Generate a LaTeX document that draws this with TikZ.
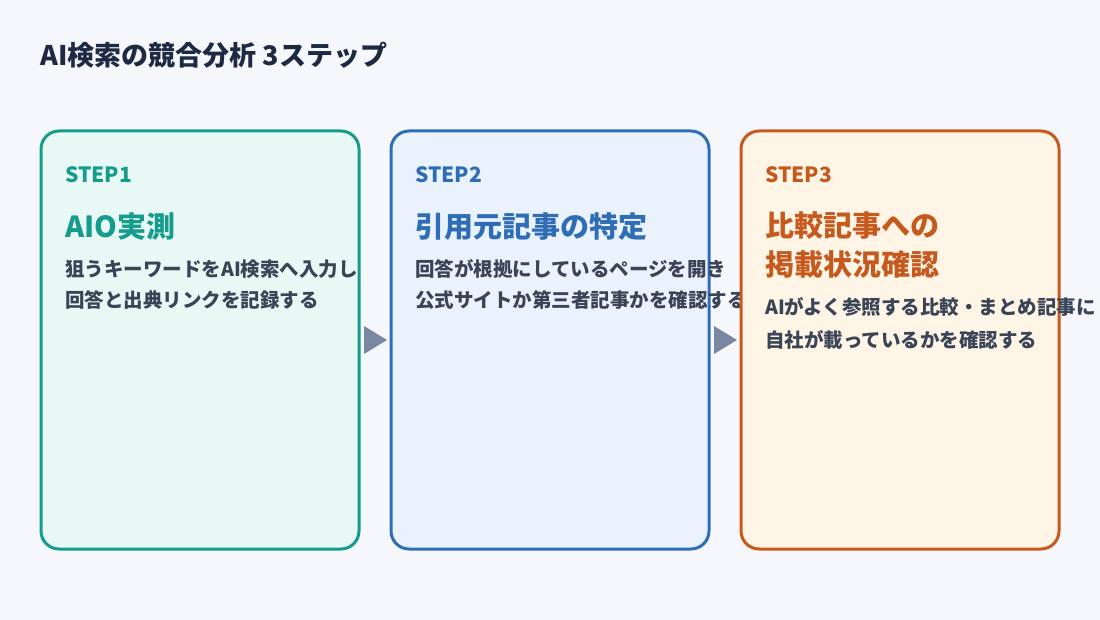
\documentclass[tikz,border=0pt]{standalone}
\usepackage{fontspec}
\setmainfont{Noto Sans CJK JP}
\definecolor{bg}{HTML}{F5F7FB}
\definecolor{ink}{HTML}{1E2A44}
\definecolor{body}{HTML}{3A4457}
\definecolor{cA}{HTML}{159C8C}\definecolor{fA}{HTML}{E8F8F4}
\definecolor{cB}{HTML}{2F6DB5}\definecolor{fB}{HTML}{EAF2FD}
\definecolor{cC}{HTML}{C65A1E}\definecolor{fC}{HTML}{FFF5E6}
\definecolor{arr}{HTML}{7A87A3}
\begin{document}
\begin{tikzpicture}[x=1pt,y=-1pt,
 card/.style={draw=#1,line width=3pt,rounded corners=18pt},
 step/.style={anchor=base west,inner sep=0,font=\fontsize{21}{21}\selectfont\bfseries,text=#1},
 head/.style={anchor=base west,inner sep=0,font=\fontsize{29}{29}\selectfont\bfseries,text=#1},
 txt/.style={anchor=base west,inner sep=0,font=\fontsize{19.5}{19.5}\selectfont\bfseries,text=body},
 tri/.style={fill=arr}]
\fill[bg] (0,0) rectangle (1100,620);
\node[anchor=base west,inner sep=0,font=\fontsize{27}{27}\selectfont\bfseries,text=ink] (title) at (40,66) {AI検索の競合分析 3ステップ};
% card 1
\draw[card=cA,fill=fA] (41,131) rectangle (359,549);
\node[step=cA] (s1) at (65,183) {STEP1};
\node[head=cA] (h1) at (65,238) {AIO実測};
\node[txt] (b1a) at (65,277) {狙うキーワードをAI検索へ入力し};
\node[txt] (b1b) at (65,307) {回答と出典リンクを記録する};
% card 2
\draw[card=cB,fill=fB] (391,131) rectangle (709,549);
\fill[tri] (364,326) -- (387,340) -- (364,354) -- cycle;
\node[step=cB] (s2) at (415,183) {STEP2};
\node[head=cB] (h2) at (415,238) {引用元記事の特定};
\node[txt] (b2a) at (415,277) {回答が根拠にしているページを開き};
\node[txt] (b2b) at (415,307) {公式サイトか第三者記事かを確認する};
% card 3
\draw[card=cC,fill=fC] (741,131) rectangle (1059,549);
\fill[tri] (714,326) -- (737,340) -- (714,354) -- cycle;
\node[step=cC] (s3) at (765,183) {STEP3};
\node[head=cC] (h3a) at (765,237) {比較記事への};
\node[head=cC] (h3b) at (765,276) {掲載状況確認};
\node[txt] (b3a) at (765,315) {AIがよく参照する比較・まとめ記事に};
\node[txt] (b3b) at (765,347) {自社が載っているかを確認する};
\useasboundingbox (0,0) rectangle (1100,620);
\end{tikzpicture}
\end{document}
